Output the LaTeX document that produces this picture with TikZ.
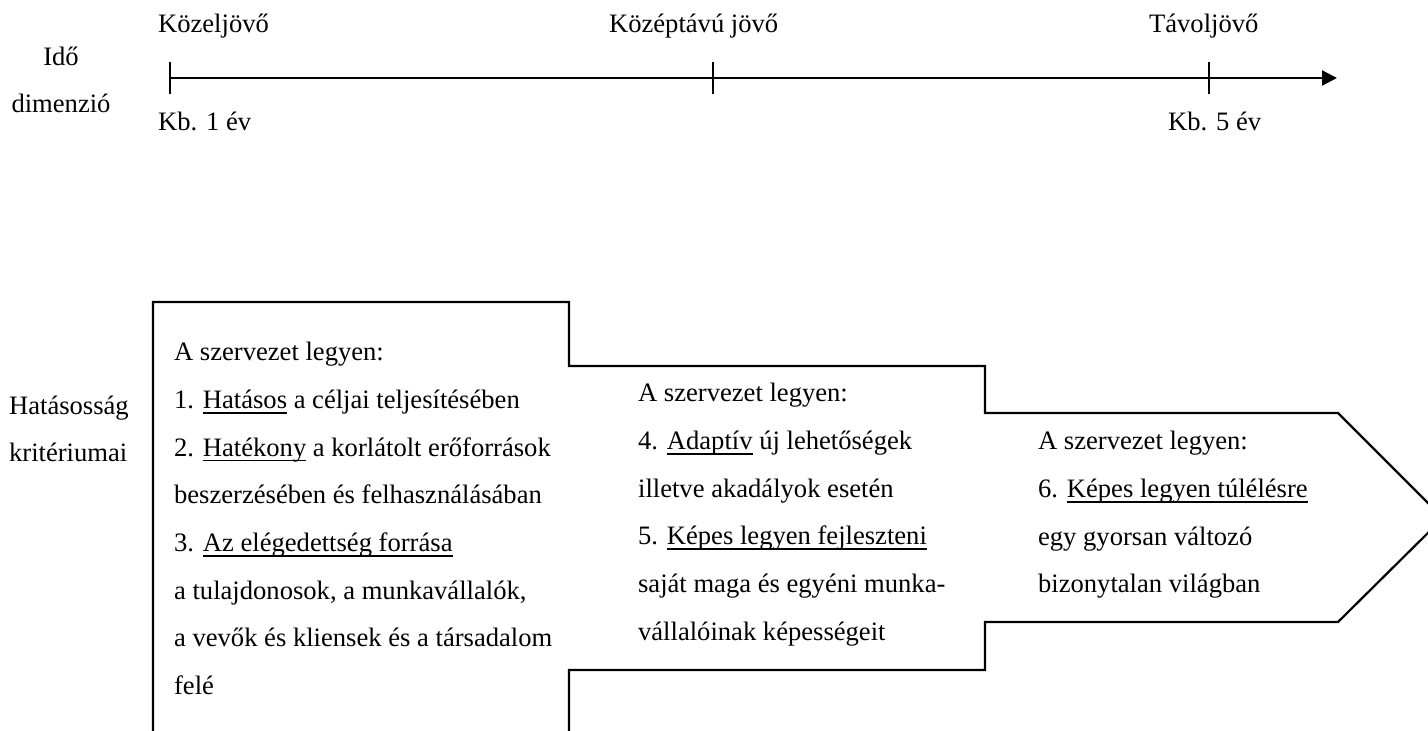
\documentclass[tikz,border=0pt]{standalone}
\usepackage{fontspec}
\setmainfont{Liberation Serif}
\usetikzlibrary{arrows.meta}
% underline at a fixed depth below the baseline
\newsavebox\ulbox
\newcommand\ulx[1]{\sbox\ulbox{#1}\rlap{\rule[-2.6pt]{\wd\ulbox}{0.9pt}}\usebox\ulbox}
\begin{document}
\begin{tikzpicture}[x=0.5pt,y=-0.5pt,line width=1.1pt,
  txt/.style={anchor=base west,inner sep=0pt,font=\fontsize{13.3}{16}\selectfont},
  ctxt/.style={txt,anchor=base},
  tick/.style={line width=1.1pt},
  outline/.style={line width=1.1pt,line join=miter}]
\useasboundingbox (0,0) rectangle (1428,731);

% time axis
\coordinate (t0) at (170,78);
\coordinate (tend) at (1337,78);
\coordinate (m1a) at (170,62);  \coordinate (m1b) at (170,94);
\coordinate (m2a) at (713,62);  \coordinate (m2b) at (713,94);
\coordinate (m3a) at (1209,62); \coordinate (m3b) at (1209,94);
\draw[-{Triangle[length=7.5pt,width=7.5pt]}] (t0) -- (tend);
\draw[tick] (m1a) -- (m1b);
\draw[tick] (m2a) -- (m2b);
\draw[tick] (m3a) -- (m3b);

\node[txt] (near) at (157,33) {Közeljövő};
\node[txt] (mid) at (608,33) {Középtávú jövő};
\node[txt] (far) at (1148,33) {Távoljövő};
\node[txt] (y1) at (157,131) {Kb. 1 év};
\node[txt] (y5) at (1167,131) {Kb. 5 év};
\node[ctxt] (ido) at (61,66) {Idő};
\node[ctxt] (dim) at (61,113) {dimenzió};

% criteria labels
\node[txt] (hat) at (8,415) {Hatásosság};
\node[txt] (krit) at (8,462) {kritériumai};

% stepped arrow outline
\begin{scope}
\clip (0,0) rectangle (1428,731);
\coordinate (p1) at (153,760);
\coordinate (p2) at (153,302);
\coordinate (p3) at (569,302);
\coordinate (p4) at (569,366);
\coordinate (p5) at (985,366);
\coordinate (p6) at (985,413);
\coordinate (p7) at (1338,413);
\coordinate (p8) at (1443,518);
\coordinate (p9) at (1338,622);
\coordinate (p10) at (985,622);
\coordinate (p11) at (985,670);
\coordinate (p12) at (569,670);
\coordinate (p13) at (569,760);
\draw[outline] (p1) -- (p2) -- (p3) -- (p4) -- (p5) -- (p6) -- (p7) -- (p8)
  -- (p9) -- (p10) -- (p11) -- (p12) -- (p13);
\end{scope}

% first stage
\foreach \k/\t in {0/{A szervezet legyen:},
  1/{1. \ulx{Hatásos} a céljai teljesítésében},
  2/{2. \ulx{Hatékony} a korlátolt erőforrások},
  3/{beszerzésében és felhasználásában},
  4/{3. \ulx{Az elégedettség forrása}},
  5/{a tulajdonosok, a munkavállalók,},
  6/{a vevők és kliensek és a társadalom},
  7/{felé}}
  \node[txt] (a\k) at (173,361+47.6*\k) {\t};

% second stage
\foreach \k/\t in {0/{A szervezet legyen:},
  1/{4. \ulx{Adaptív} új lehetőségek},
  2/{illetve akadályok esetén},
  3/{5. \ulx{Képes legyen fejleszteni}},
  4/{saját maga és egyéni munka-},
  5/{vállalóinak képességeit}}
  \node[txt] (b\k) at (637,402+47.6*\k) {\t};

% third stage
\foreach \k/\t in {0/{A szervezet legyen:},
  1/{6. \ulx{Képes legyen túlélésre}},
  2/{egy gyorsan változó},
  3/{bizonytalan világban}}
  \node[txt] (c\k) at (1037,450+47.6*\k) {\t};
\end{tikzpicture}
\end{document}
